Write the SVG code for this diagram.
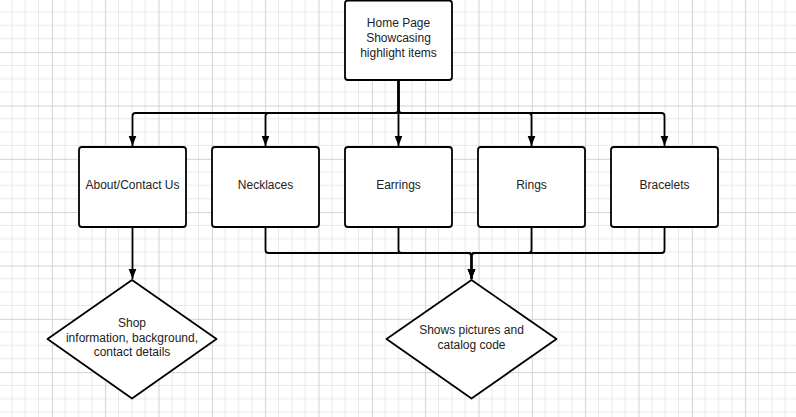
<svg xmlns="http://www.w3.org/2000/svg" width="796" height="417" viewBox="0 0 796 417">
<defs>
<pattern id="grid" x="-1.5" y="-1.2" width="53.333" height="53.333" patternUnits="userSpaceOnUse">
<path d="M13.333 0V53.333M26.667 0V53.333M40 0V53.333M0 13.333H53.333M0 26.667H53.333M0 40H53.333" stroke="#e8e8e8" stroke-width="1" fill="none"/>
<path d="M0.5 0V53.333M0 0.5H53.333" stroke="#d2d2d2" stroke-width="1" fill="none"/>
</pattern>
<marker id="arr" markerWidth="10" markerHeight="10" refX="10" refY="5" orient="auto" markerUnits="userSpaceOnUse">
<path d="M0 1.2L10 5L0 8.8Z" fill="#000"/>
</marker>
<style>
.box{fill:#fff;stroke:#000;stroke-width:1.8}
.t{font-family:"Liberation Sans",Arial,sans-serif;font-size:12px;fill:#222;text-anchor:middle}
.c{fill:none;stroke:#000;stroke-width:1.8}
</style>
</defs>
<rect width="796" height="417" fill="#fff"/>
<rect width="796" height="417" fill="url(#grid)"/>
<g id="connectors">
<path class="c" d="M398.5 80V110Q398.5 113 395.5 113H135.5Q132.5 113 132.5 116V146" marker-end="url(#arr)"/>
<path class="c" d="M398.5 80V110Q398.5 113 395.5 113H268.5Q265.5 113 265.5 116V146" marker-end="url(#arr)"/>
<path class="c" d="M398.5 80V146" marker-end="url(#arr)"/>
<path class="c" d="M398.5 80V110Q398.5 113 401.5 113H528.5Q531.5 113 531.5 116V146" marker-end="url(#arr)"/>
<path class="c" d="M398.5 80V110Q398.5 113 401.5 113H661.5Q664.5 113 664.5 116V146" marker-end="url(#arr)"/>
<path class="c" d="M132.5 227V279" marker-end="url(#arr)"/>
<path class="c" d="M265.5 227V250Q265.5 253 268.5 253H468.5Q471.5 253 471.5 256V279" marker-end="url(#arr)"/>
<path class="c" d="M398.5 227V250Q398.5 253 401.5 253H468.5Q471.5 253 471.5 256V279" marker-end="url(#arr)"/>
<path class="c" d="M531.5 227V250Q531.5 253 528.5 253H474.5Q471.5 253 471.5 256V279" marker-end="url(#arr)"/>
<path class="c" d="M664.5 227V250Q664.5 253 661.5 253H474.5Q471.5 253 471.5 256V279" marker-end="url(#arr)"/>
</g>
<g id="home">
<rect class="box" x="345" y="0.5" width="107" height="79.5" rx="3"/>
<text class="t" x="398.5" y="27">Home Page</text>
<text class="t" x="398.5" y="42">Showcasing</text>
<text class="t" x="398.5" y="56.5">highlight items</text>
</g>
<g id="about">
<rect class="box" x="79" y="147" width="107" height="80" rx="3"/>
<text class="t" x="132.5" y="188.6">About/Contact Us</text>
</g>
<g id="necklaces">
<rect class="box" x="212" y="147" width="107" height="80" rx="3"/>
<text class="t" x="265.5" y="188.6">Necklaces</text>
</g>
<g id="earrings">
<rect class="box" x="345" y="147" width="107" height="80" rx="3"/>
<text class="t" x="398.5" y="188.6">Earrings</text>
</g>
<g id="rings">
<rect class="box" x="478" y="147" width="107" height="80" rx="3"/>
<text class="t" x="531.5" y="188.6">Rings</text>
</g>
<g id="bracelets">
<rect class="box" x="611" y="147" width="107" height="80" rx="3"/>
<text class="t" x="664.5" y="188.6">Bracelets</text>
</g>
<g id="shop-info">
<path class="box" d="M132 280L216.5 339L132 398.5L47.5 339Z" stroke-linejoin="round"/>
<text class="t" x="132" y="327">Shop</text>
<text class="t" x="132" y="341.6">information, background,</text>
<text class="t" x="132" y="355.6">contact details</text>
</g>
<g id="pictures">
<path class="box" d="M471.5 280L556.5 339L471.5 398.5L386.5 339Z" stroke-linejoin="round"/>
<text class="t" x="471.5" y="334.3">Shows pictures and</text>
<text class="t" x="471.5" y="349.3">catalog code</text>
</g>
</svg>
